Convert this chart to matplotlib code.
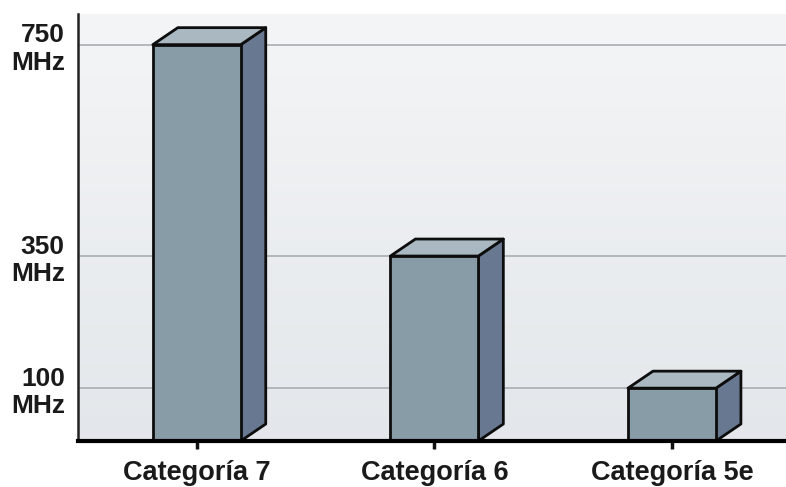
import numpy as np
import matplotlib
matplotlib.use('Agg')
import matplotlib.pyplot as plt
from matplotlib.patches import Polygon
from matplotlib.colors import LinearSegmentedColormap

# --- Data ---
categories = ['Categoría 7', 'Categoría 6', 'Categoría 5e']
bandwidth_mhz = [750, 350, 100]
tick_values = [100, 350, 750]
tick_labels = ['100\nMHz', '350\nMHz', '750\nMHz']

# --- Style ---
FRONT = '#889ca8'
SIDE = '#687890'
TOP = '#a9b8c1'
EDGE = '#0d0d0d'
BAR_WIDTH = 0.37
DEPTH_X, DEPTH_Y = 0.25, 0.17  # 3D offset in inches

plt.rcParams['font.family'] = ['Liberation Sans', 'DejaVu Sans']

fig = plt.figure(figsize=(7.86, 4.87), dpi=100)
ax = fig.add_axes([78 / 786, 1 - 441 / 487, 1 - 78 / 786, 427 / 487])
ax.set_xlim(-0.5, 2.48)
ax.set_ylim(0, 808)

# background gradient: light at top, slightly blue-gray at bottom
bg = LinearSegmentedColormap.from_list('bg', ['#e3e7eb', '#f4f5f6'])
ax.imshow(np.linspace(0, 1, 256).reshape(-1, 1), cmap=bg, aspect='auto',
          extent=[-0.5, 2.48, 0, 808], origin='lower', zorder=0)

for v in tick_values:
    ax.axhline(v, color='#a8aeb3', linewidth=1.2, zorder=1)

x = np.arange(len(categories))
ax.bar(x, bandwidth_mhz, width=BAR_WIDTH, color=FRONT, edgecolor=EDGE,
       linewidth=2, zorder=4)

# depth faces: shifted by a fixed physical offset (in display units)
off = np.array([DEPTH_X * fig.dpi, DEPTH_Y * fig.dpi])
inv = ax.transData.inverted()
for xi, h in zip(x, bandwidth_mhz):
    x0, x1 = xi - BAR_WIDTH / 2, xi + BAR_WIDTH / 2
    side_pts = ax.transData.transform([(x1, 0), (x1, h)])
    side_disp = [side_pts[0], side_pts[0] + off, side_pts[1] + off, side_pts[1]]
    top_pts = ax.transData.transform([(x0, h), (x1, h)])
    top_disp = [top_pts[0], top_pts[0] + off, top_pts[1] + off, top_pts[1]]
    ax.add_patch(Polygon(inv.transform(side_disp), closed=True, facecolor=SIDE,
                         edgecolor=EDGE, linewidth=2, zorder=3, joinstyle='round'))
    ax.add_patch(Polygon(inv.transform(top_disp), closed=True, facecolor=TOP,
                         edgecolor=EDGE, linewidth=2, zorder=3, joinstyle='round'))

ax.set_xticks(x)
ax.set_xticklabels(categories, fontsize=19.5, fontweight='bold', color='#1a1a1a')
ax.set_yticks(tick_values)
ax.set_yticklabels(tick_labels, fontsize=19, fontweight='bold', color='#1a1a1a',
                   linespacing=1.2)
ax.tick_params(axis='y', length=0, pad=9.5)
ax.tick_params(axis='x', length=6, width=2.5, pad=8, color='#111111')

for s in ['top', 'right']:
    ax.spines[s].set_visible(False)
ax.spines['left'].set_linewidth(1.8)
ax.spines['left'].set_color('#222222')
ax.spines['bottom'].set_linewidth(3)
ax.spines['bottom'].set_color('#000000')
ax.spines['bottom'].set_zorder(5)

fig.savefig('out.png', dpi=100, facecolor='white')
